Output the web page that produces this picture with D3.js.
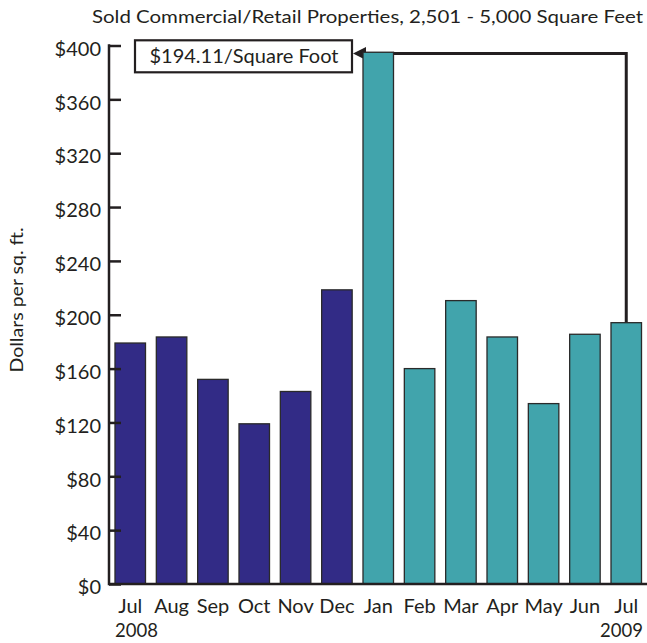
<!DOCTYPE html>
<html>
<head>
<meta charset="utf-8">
<script src="https://cdn.jsdelivr.net/npm/d3@7"></script>
<style>
  body { margin: 0; background: #fff; }
  text { font-family: Lato, "Open Sans", sans-serif; fill: #231f20; }
</style>
</head>
<body>
<svg id="chart" width="647" height="643"></svg>
<script>
const months = ["Jul","Aug","Sep","Oct","Nov","Dec","Jan","Feb","Mar","Apr","May","Jun","Jul"];
const years = ["2008","2009"];
const values = [179, 183.5, 152, 119, 143, 218.5, 395, 160, 210.5, 183.5, 134, 185.5, 194.11];
const series = ["2008","2008","2008","2008","2008","2008","2009","2009","2009","2009","2009","2009","2009"];
const yTicks = [0,40,80,120,160,200,240,280,320,360,400];
const title = "Sold Commercial/Retail Properties, 2,501 - 5,000 Square Feet";
const yTitle = "Dollars per sq. ft.";
const note = "$194.11/Square Foot";
const colors = {"2008": "#322b86", "2009": "#41a4ac"};

const svg = d3.select("#chart");
const x = d3.scaleBand().domain(d3.range(months.length)).range([109, 647.5]).paddingInner(0.262).paddingOuter(0.145);
const y = d3.scaleLinear().domain([0, 400]).range([584, 45.5]);

// title
svg.append("text").attr("x", 92).attr("y", 23).attr("font-size", 18)
  .attr("textLength", 551).attr("lengthAdjust", "spacingAndGlyphs").text(title);

// y title
svg.append("text").attr("transform", "translate(23,300) rotate(-90)")
  .attr("text-anchor", "middle").attr("font-size", 17)
  .attr("textLength", 145).attr("lengthAdjust", "spacingAndGlyphs").text(yTitle);

// annotation arrow (drawn under bars)
const last = months.length - 1;
const ax = x(last) + x.bandwidth() / 2;
const ay = 53.5;
svg.append("path")
  .attr("d", `M${ax},${y(values[last])} L${ax},${ay} L365,${ay}`)
  .attr("fill", "none").attr("stroke", "#231f20").attr("stroke-width", 3);
svg.append("path")
  .attr("d", `M353,${ay} L366,${ay - 6.5} L366,${ay + 6.5} Z`)
  .attr("fill", "#231f20");

// bars
svg.append("g").selectAll("rect").data(values).join("rect")
  .attr("x", (d, i) => x(i)).attr("width", x.bandwidth())
  .attr("y", d => y(d)).attr("height", d => y(0) - y(d))
  .attr("fill", (d, i) => colors[series[i]])
  .attr("stroke", "#2a2a2a").attr("stroke-width", 1.3);

// y axis
const yAxis = d3.axisRight(y).tickValues(yTicks).tickSize(12).tickFormat("");
const gy = svg.append("g").attr("transform", "translate(109,0)").call(yAxis);
gy.select(".domain").remove();
gy.selectAll(".tick line").attr("stroke", "#231f20").attr("stroke-width", 2.5);
svg.append("line").attr("x1", 109).attr("x2", 109).attr("y1", y(400) - 1.2).attr("y2", y(0) + 1.2)
  .attr("stroke", "#231f20").attr("stroke-width", 2.5);
svg.append("g").selectAll("text").data(yTicks).join("text")
  .attr("x", 101).attr("y", d => y(d) + 10.2).attr("text-anchor", "end")
  .attr("font-size", 20).text(d => "$" + d);

// x axis line
svg.append("line").attr("x1", 109).attr("x2", 647).attr("y1", y(0)).attr("y2", y(0))
  .attr("stroke", "#231f20").attr("stroke-width", 2.5);

// month labels
svg.append("g").selectAll("text").data(months).join("text")
  .attr("x", (d, i) => x(i) + x.bandwidth() / 2).attr("y", 613)
  .attr("text-anchor", "middle").attr("font-size", 20).text(d => d);
svg.append("text").attr("x", 115).attr("y", 637).attr("font-size", 18.5).text(years[0]);
svg.append("text").attr("x", 643).attr("y", 637).attr("text-anchor", "end").attr("font-size", 18.5).text(years[1]);

// annotation box
svg.append("rect").attr("x", 135).attr("y", 40.3).attr("width", 217).attr("height", 32)
  .attr("fill", "#fff").attr("stroke", "#231f20").attr("stroke-width", 2.2);
svg.append("text").attr("x", 244).attr("y", 63).attr("text-anchor", "middle")
  .attr("font-size", 20).text(note);
</script>
</body>
</html>
